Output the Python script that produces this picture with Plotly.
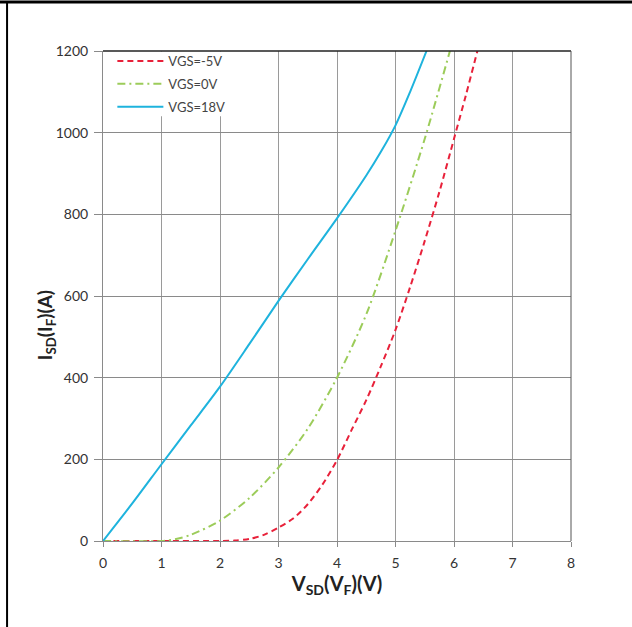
import plotly.graph_objects as go

# Data
v_m5 = [0, 1, 2, 2.25, 2.5, 2.75, 3, 3.25, 3.5, 3.75, 4, 4.25, 4.5, 4.75, 5, 5.25, 5.5, 5.75, 6, 6.2, 6.4]
i_m5 = [0, 0, 0, 1, 5, 15, 33, 55, 90, 138, 198, 272, 345, 428, 517, 622, 735, 855, 985, 1090, 1200]

v_0 = [0, 1, 1.25, 1.5, 2, 2.5, 3, 3.5, 4, 4.5, 5, 5.5, 5.93]
i_0 = [0, 0, 5, 15, 50, 105, 180, 275, 400, 555, 760, 985, 1200]

v_18 = [0, 0.5, 1, 1.5, 2, 2.5, 3, 3.5, 4, 4.5, 4.75, 5, 5.25, 5.53]
i_18 = [0, 92, 188, 283, 378, 482, 588, 690, 790, 895, 953, 1018, 1100, 1200]

x_ticks = [0, 1, 2, 3, 4, 5, 6, 7, 8]
y_ticks = [0, 200, 400, 600, 800, 1000, 1200]

FONT = "Lato, Open Sans, sans-serif"

fig = go.Figure()
fig.add_trace(go.Scatter(x=v_m5, y=i_m5, mode="lines", name="VGS=-5V", legendgroup="a",
                         line=dict(color="#e8213a", width=2, dash="6px,4px", shape="spline", smoothing=0.8)))
fig.add_trace(go.Scatter(x=v_0, y=i_0, mode="lines", name="VGS=0V", legendgroup="b",
                         line=dict(color="#9ccc5a", width=2, dash="8px,4px,2px,4px", shape="spline", smoothing=0.8)))
fig.add_trace(go.Scatter(x=v_18, y=i_18, mode="lines", name="VGS=18V", legendgroup="c",
                         line=dict(color="#1eb3dd", width=2, shape="spline", smoothing=0.8)))

tickfont = dict(family=FONT, size=14, color="#333")
fig.update_layout(
    width=632, height=627,
    margin=dict(l=103, r=61, t=51, b=86),
    paper_bgcolor="white", plot_bgcolor="white",
    showlegend=True,
    legend=dict(x=0.02, y=1.0102, xanchor="left", yanchor="top",
                bgcolor="rgba(0,0,0,0)", borderwidth=0, itemwidth=46, tracegroupgap=3,
                traceorder="grouped",
                font=dict(family=FONT, size=13, color="#444")),
    xaxis=dict(range=[0, 8], tickvals=x_ticks, showgrid=True, gridcolor="#9a9a9a", gridwidth=1,
               showline=True, linecolor="#8a8a8a", linewidth=1, zeroline=False,
               ticks="outside", ticklen=5, tickcolor="#8a8a8a", tickfont=tickfont,
               ticklabelstandoff=4,
               title=dict(text="<b>V<sub>SD</sub>(V<sub>F</sub>)(V)</b>", standoff=2,
                          font=dict(family=FONT, size=20, color="#222"))),
    yaxis=dict(range=[0, 1200], tickvals=y_ticks, showgrid=True, gridcolor="#8a8a8a", gridwidth=1,
               showline=True, linecolor="#8a8a8a", linewidth=1, zeroline=False,
               ticks="outside", ticklen=8, tickcolor="#8a8a8a", tickfont=tickfont,
               ticklabelstandoff=3),
    annotations=[
        dict(text="<b>I<sub>SD</sub>(I<sub>F</sub>)(A)</b>", xref="paper", yref="paper",
             x=-0.12, y=0.44, xanchor="center", yanchor="middle", textangle=-90,
             showarrow=False, font=dict(family=FONT, size=19, color="#222")),
    ],
    shapes=[
        # white legend box area
        dict(type="rect", xref="paper", yref="paper", x0=0.003, x1=0.314, y0=0.867, y1=0.999,
             fillcolor="white", line=dict(width=0), layer="above"),
        dict(type="line", xref="paper", yref="paper", x0=0, x1=1, y0=1, y1=1,
             line=dict(color="#222", width=1.5)),
        dict(type="line", xref="paper", yref="paper", x0=1, x1=1, y0=0, y1=1,
             line=dict(color="#555", width=1)),
        # outer frame lines (top and left)
        dict(type="line", xref="paper", yref="paper", x0=-0.23, x1=1.14, y0=1.1, y1=1.1,
             line=dict(color="black", width=3)),
        dict(type="line", xref="paper", yref="paper", x0=-0.205, x1=-0.205, y0=-0.19, y1=1.1,
             line=dict(color="black", width=2)),
    ],
)

fig.write_html("out.html")
